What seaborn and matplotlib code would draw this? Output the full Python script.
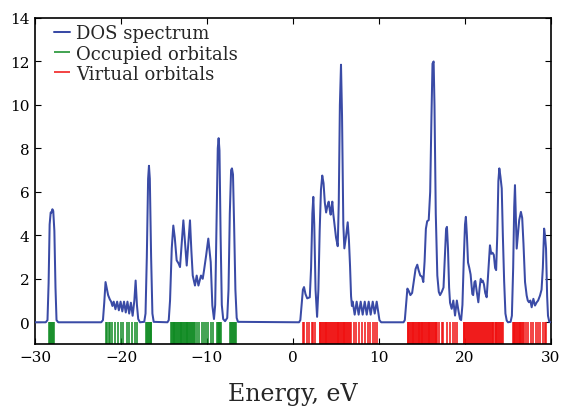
import matplotlib
matplotlib.use("Agg")
import matplotlib.pyplot as plt
import seaborn as sns
import pandas as pd

# Density of states curve (energy in eV, DOS in arbitrary units)
dos_energy = [
    -30.0, -28.75, -28.55, -28.42, -28.3, -28.18, -28.08, -27.98, -27.88, -27.75, -27.62, -27.5, -27.3,
    -22.3, -22.1, -21.95, -21.8, -21.65, -21.5, -21.3, -21.15,
    -21.0, -20.85, -20.65, -20.45, -20.25, -20.05, -19.85, -19.65, -19.45, -19.25, -19.05, -18.85, -18.65,
    -18.45, -18.3, -18.15, -18.0, -17.8,
    -17.3, -17.15, -17.0, -16.85, -16.75, -16.65, -16.5, -16.35, -16.2,
    -14.6, -14.45, -14.3, -14.1, -13.92, -13.75, -13.53, -13.3, -13.14, -12.95, -12.75, -12.55, -12.36,
    -12.18, -11.98, -11.82, -11.66, -11.4, -11.2, -11.0, -10.7, -10.5, -10.35, -10.1, -9.85, -9.57,
    -9.38, -9.19,
    -9.05, -8.9, -8.75, -8.65, -8.55, -8.42, -8.28, -8.12, -7.9, -7.65, -7.5, -7.35, -7.2, -7.1, -6.98,
    -6.85, -6.7, -6.55, -6.4,
    0.7, 0.85, 1.0, 1.15, 1.28, 1.45, 1.65, 1.95, 2.1, 2.25, 2.36, 2.47, 2.62, 2.8, 2.95, 3.1, 3.25,
    3.4, 3.55, 3.7, 3.85, 4.0, 4.15, 4.28, 4.38, 4.48, 4.57, 4.68, 4.8, 5.0, 5.2, 5.32, 5.45, 5.58,
    5.7, 5.85, 5.97, 6.15, 6.36, 6.5, 6.63, 6.75, 6.85,
    6.94, 7.17, 7.4, 7.63, 7.87, 8.1, 8.34, 8.57, 8.8, 9.03, 9.27, 9.5, 9.73, 9.9, 10.05, 10.25,
    12.85, 13.0, 13.15, 13.3, 13.45, 13.65, 13.85, 14.05, 14.25, 14.45, 14.6, 14.8, 15.0, 15.15, 15.3,
    15.45, 15.6, 15.78, 15.95, 16.1, 16.22, 16.35, 16.45, 16.6, 16.78, 16.95, 17.1, 17.3, 17.5, 17.65,
    17.8, 17.9, 18.02, 18.15, 18.26, 18.45, 18.64, 18.84, 19.05, 19.25, 19.42, 19.55,
    19.7, 19.85, 20.0, 20.1, 20.22, 20.35, 20.5, 20.65, 20.85, 20.95, 21.1, 21.2, 21.35, 21.55, 21.7,
    21.83, 21.95, 22.06, 22.2, 22.35, 22.52, 22.7, 22.9, 23.05, 23.2, 23.35, 23.5, 23.62, 23.75, 23.88,
    23.99, 24.12, 24.27, 24.4, 24.55, 24.7, 24.85, 25.0, 25.3, 25.45, 25.6, 25.72, 25.81, 25.9, 26.01,
    26.15, 26.3, 26.5, 26.65, 26.8, 26.98, 27.17, 27.3, 27.44, 27.6, 27.75, 27.95, 28.14, 28.34, 28.5,
    28.72, 28.9, 29.05, 29.2, 29.3, 29.42, 29.55, 29.65, 29.8, 30.0,
]
dos_value = [
    0.0, 0.0, 0.1, 1.8, 4.5, 5.05, 5.05, 5.2, 5.12, 4.2, 1.6, 0.1, 0.0,
    0.0, 0.1, 0.9, 1.85, 1.55, 1.25, 1.05, 0.95,
    0.75, 0.95, 0.6, 0.95, 0.55, 0.95, 0.5, 0.95, 0.45, 0.95, 0.4, 0.9, 0.3,
    1.0, 1.92, 0.8, 0.15, 0.0,
    0.02, 0.4, 3.0, 6.6, 7.2, 6.6, 3.0, 0.4, 0.02,
    0.0, 0.1, 1.0, 3.4, 4.45, 3.9, 2.85, 2.7, 2.54, 3.6, 4.69, 3.6, 2.61,
    3.6, 4.69, 3.3, 2.15, 1.69, 2.15, 1.69, 2.15, 2.0, 2.38, 3.08, 3.85, 2.77,
    0.77, 0.15,
    0.8, 4.5, 8.0, 8.47, 7.9, 4.0, 0.8, 0.15, 0.05, 0.2, 1.5, 5.0, 7.0, 7.08, 6.8,
    4.5, 1.5, 0.2, 0.02,
    0.0, 0.1, 0.8, 1.5, 1.62, 1.3, 1.1, 1.15, 2.5, 5.0, 5.77, 4.5, 1.5, 0.25, 1.5, 4.2, 6.1,
    6.75, 6.4, 5.5, 5.05, 5.35, 5.55, 5.15, 4.95, 5.3, 5.55, 5.0, 4.6, 3.9, 3.5, 5.5, 10.0, 11.85,
    9.5, 4.5, 3.4, 3.9, 4.6, 3.8, 2.6, 1.2, 0.75,
    0.95, 0.35, 0.95, 0.35, 0.95, 0.35, 0.95, 0.35, 0.95, 0.35, 0.95, 0.4, 0.95, 0.5, 0.1, 0.0,
    0.0, 0.1, 0.8, 1.55, 1.45, 1.25, 1.35, 1.9, 2.45, 2.65, 2.4, 2.15, 2.1, 1.85, 2.8,
    4.3, 4.65, 4.7, 6.0, 9.5, 11.9, 12.0, 10.0, 5.0, 2.15, 1.4, 1.25, 1.4, 1.6, 3.0,
    4.3, 4.39, 3.4, 1.6, 0.9, 0.62, 1.0, 0.31, 1.0, 0.5, 0.15, 0.1,
    0.8, 2.8, 4.5, 4.85, 4.0, 2.75, 2.5, 2.2, 1.3, 1.25, 1.85, 1.9, 1.45, 0.92, 1.6,
    2.0, 1.85, 1.92, 1.75, 1.35, 1.15, 2.3, 3.54, 3.15, 3.2, 3.1, 2.5, 2.4, 4.0, 6.5,
    7.08, 6.7, 6.16, 4.0, 1.9, 0.4, 0.08, 0.0, 0.02, 0.3, 2.5, 5.3, 6.31, 5.0, 3.39,
    4.0, 4.7, 5.08, 4.8, 3.6, 1.85, 1.23, 1.0, 0.92, 1.0, 0.69, 1.08, 0.77, 0.92, 1.0,
    1.23, 1.5, 2.5, 4.31, 4.0, 3.39, 1.2, 0.3, 0.02, 0.0,
]

# Orbital energies (eV)
occupied_energy = [
    -28.32, -28.22, -28.12, -28.02, -27.92, -27.82,
    -21.74, -21.6, -21.42, -21.25, -21.06, -20.7, -20.38, -20.03, -19.73, -19.34, -19.03, -18.69,
    -18.36, -18.12,
    -17.06, -16.96, -16.86, -16.76, -16.66, -16.56, -16.46,
    -14.18, -14.08, -13.98, -13.88, -13.8, -13.7, -13.6, -13.5, -13.4, -13.3, -13.18, -13.08, -12.98,
    -12.88, -12.78, -12.68, -12.58, -12.48, -12.38, -12.28, -12.18, -12.08, -11.98, -11.88, -11.78,
    -11.66, -11.55, -11.45,
    -11.2, -10.93, -10.62, -10.35, -10.12, -9.85, -9.57, -9.33,
    -8.85, -8.75, -8.65, -8.55, -8.45, -8.35,
    -7.31, -7.2, -7.1, -7.0, -6.9, -6.78, -6.68,
]
virtual_energy = [
    1.12, 1.31, 1.59, 1.86, 2.17, 2.36, 2.56,
    3.08, 3.18, 3.28, 3.38, 3.48, 3.58, 3.68, 3.78, 3.88, 3.98, 4.08, 4.18, 4.28, 4.38, 4.5, 4.6,
    4.78, 4.88, 4.98, 5.08, 5.18, 5.28, 5.38, 5.48, 5.58, 5.68, 5.78, 5.88, 5.98, 6.08, 6.18, 6.28,
    6.38, 6.5, 6.6,
    6.78, 7.05, 7.35, 7.68, 7.99, 8.38, 8.69, 8.95, 9.28, 9.55, 9.8,
    13.33, 13.42, 13.5, 13.62, 13.72, 13.8, 13.9, 14.0, 14.1, 14.2, 14.3, 14.42, 14.52, 14.6, 14.7,
    14.78, 14.87, 14.95, 15.05, 15.15, 15.25, 15.35, 15.47, 15.57, 15.67, 15.77, 15.87, 15.97,
    16.07, 16.17, 16.27, 16.37, 16.47, 16.57, 16.67, 16.8, 17.01, 17.29, 17.48, 17.87, 18.26, 18.57,
    18.84, 19.03,
    19.84, 19.94, 20.04, 20.14, 20.24, 20.34, 20.45, 20.6, 20.7, 20.8, 20.9, 21.05, 21.15, 21.3,
    21.42, 21.55, 21.65, 21.75, 21.85, 22.0, 22.1, 22.2, 22.35, 22.45, 22.55, 22.65, 22.8, 22.9,
    23.0, 23.1, 23.2, 23.3, 23.45, 23.55, 23.65, 23.75, 23.85, 23.95, 24.05, 24.15, 24.25, 24.38,
    25.55, 25.65, 25.75, 25.85, 25.95, 26.05, 26.15, 26.25, 26.35, 26.45, 26.55, 26.65, 26.75,
    26.85, 27.1, 27.35, 27.65, 27.95, 28.2, 28.5, 28.75, 29.05, 29.3, 29.45,
]

x_ticks = [-30, -20, -10, 0, 10, 20, 30]
y_ticks = [0, 2, 4, 6, 8, 10, 12, 14]

DOS_COLOR = "#3a4ba6"
OCC_COLOR = "#0e8a22"
VIRT_COLOR = "#f01010"

sns.set_style("ticks", {"xtick.direction": "in", "ytick.direction": "in"})
plt.rcParams["font.family"] = ["DejaVu Serif"]
plt.rcParams["mathtext.fontset"] = "dejavuserif"

fig = plt.figure(figsize=(5.63, 4.10), dpi=100)
ax = fig.add_axes([0.0622, 0.1585, 0.9165, 0.7952])

df = pd.DataFrame({"energy": dos_energy, "dos": dos_value})
sns.lineplot(data=df, x="energy", y="dos", ax=ax, color=DOS_COLOR, lw=1.45,
             sort=False, estimator=None, label="DOS spectrum", zorder=3)
ax.vlines(occupied_energy, -1, 0, colors=OCC_COLOR, lw=1.1, label="Occupied orbitals", zorder=2)
ax.vlines(virtual_energy, -1, 0, colors=VIRT_COLOR, lw=1.1, label="Virtual orbitals", zorder=2)

ax.set_xlim(-30, 30)
ax.set_ylim(-1, 14)
ax.set_xticks(x_ticks)
ax.set_yticks(y_ticks)
ax.set_xticklabels([f"\u2212{abs(t)}" if t < 0 else str(t) for t in x_ticks])
ax.tick_params(axis="both", which="major", direction="in", length=4, width=0.8,
               labelsize=11, pad=4, top=True, right=True, colors="black")
for side in ["left", "right", "top", "bottom"]:
    ax.spines[side].set_visible(True)
    ax.spines[side].set_linewidth(1.2)
    ax.spines[side].set_color("black")

ax.set_xlabel("Energy, eV", fontsize=17, labelpad=13)
ax.set_ylabel("")

leg = ax.legend(loc="upper left", bbox_to_anchor=(0.005, 1.03), frameon=False, fontsize=13,
                handlelength=0.9, handletextpad=0.35, labelspacing=0.12,
                borderaxespad=0.5, borderpad=0.4)

fig.savefig("out.png", dpi=100)
